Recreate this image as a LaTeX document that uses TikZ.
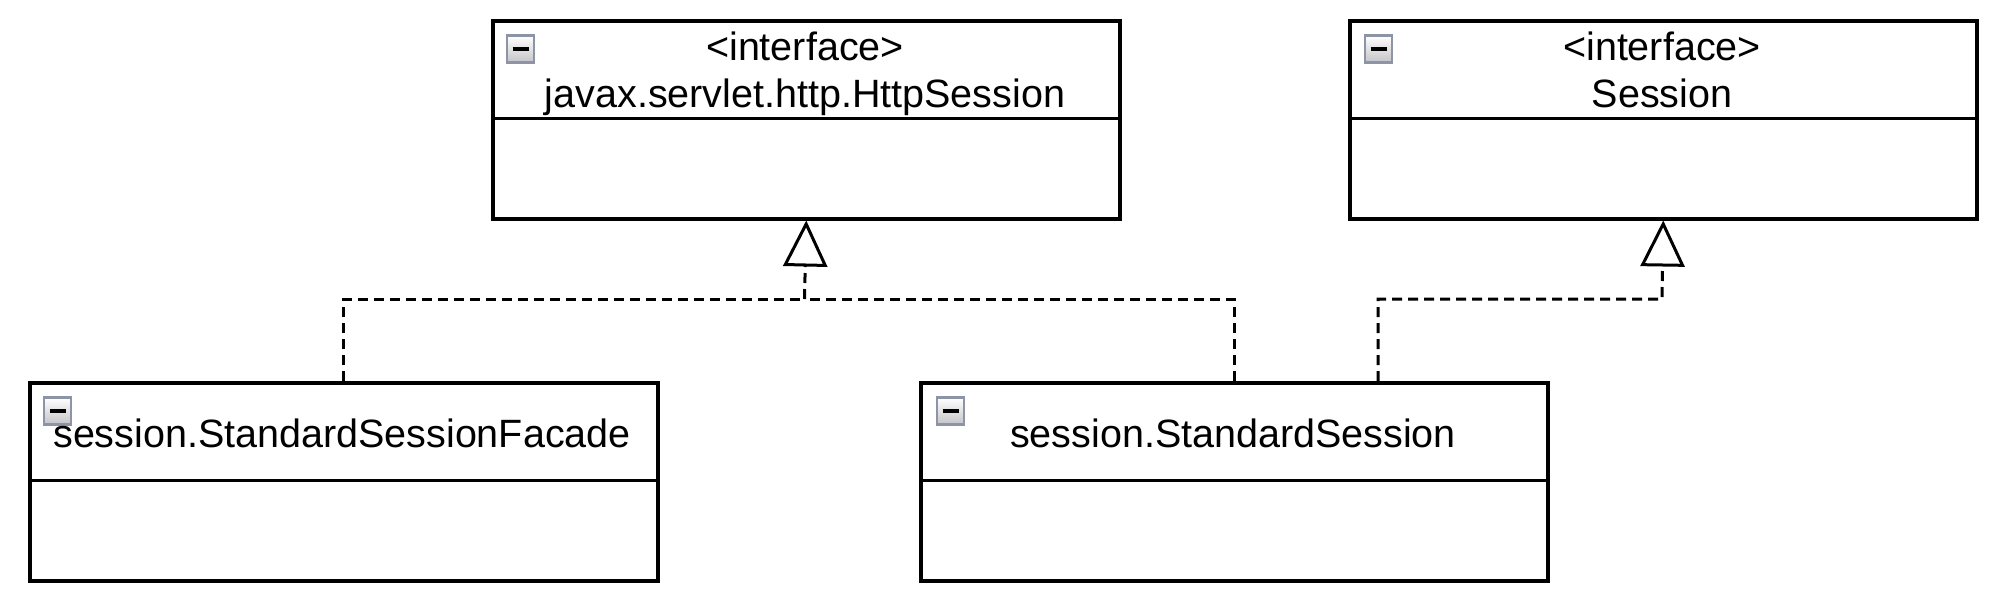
\documentclass[tikz,border=0pt]{standalone}
\usepackage{fontspec}
\setmainfont{Liberation Sans}
\usetikzlibrary{arrows.meta}
\definecolor{iconborder}{RGB}{140,148,166}
\definecolor{iconfill}{RGB}{196,196,200}
\begin{document}
\begin{tikzpicture}[x=1pt,y=-1pt,
  box/.style={draw, line width=3.5pt, minimum width=627pt, minimum height=198pt, inner sep=0pt, anchor=north west, fill=white},
  divline/.style={line width=3.5pt},
  icon/.style={minimum size=27pt, inner sep=0pt, draw=iconborder, line width=2.5pt, top color=white, bottom color=iconfill,
    path picture={\draw[black, line width=3.5pt] ([xshift=-8pt]path picture bounding box.center) -- ([xshift=8pt]path picture bounding box.center);}},
  lbl/.style={anchor=base, inner sep=0pt, font=\fontsize{39.5}{44}\selectfont},
  impl/.style={line width=3pt, dash pattern=on 10pt off 6pt},
  realize/.style={impl, -{Triangle[length=46pt, width=44pt, fill=white, line width=3pt]}}
]
\useasboundingbox (0,0) rectangle (2004,600);

% boxes
\node[box] (hs) at (491,19) {};
\node[box] (s) at (1348,19) {};
\node[box, minimum width=628pt] (fac) at (28,381) {};
\node[box] (ss) at (919,381) {};

% dividers
\foreach \b in {hs,s,fac,ss}
  \draw[divline] ([yshift=-99.5pt]\b.north west) -- ([yshift=-99.5pt]\b.north east);

% icons
\node[icon] (hsi) at (520.5,49) {};
\node[icon] (si) at (1378.5,49) {};
\node[icon] (faci) at (57.5,411) {};
\node[icon] (ssi) at (950.5,411) {};

% labels
\node[lbl] (hst1) at (805,60) {<interface>};
\node[lbl] (hst2) at (805,107) {javax.servlet.http.HttpSession};
\node[lbl] (st1) at (1662,60) {<interface>};
\node[lbl] (st2) at (1662,107) {Session};
\node[lbl] (fact) at (342,447) {session.StandardSessionFacade};
\node[lbl] (sst) at (1233,447) {session.StandardSession};

% connectors
\coordinate (j1) at (804.5,299);
\coordinate (j2) at (1662,299);
\coordinate (ss2) at (1378,381);
\draw[impl] (fac.north) |- (j1);
\draw[impl] (ss.north) |- (j1);
\draw[realize] (j1) -- (hs.south);
\draw[realize] (ss2) |- (j2) -- (s.south);
\end{tikzpicture}
\end{document}
